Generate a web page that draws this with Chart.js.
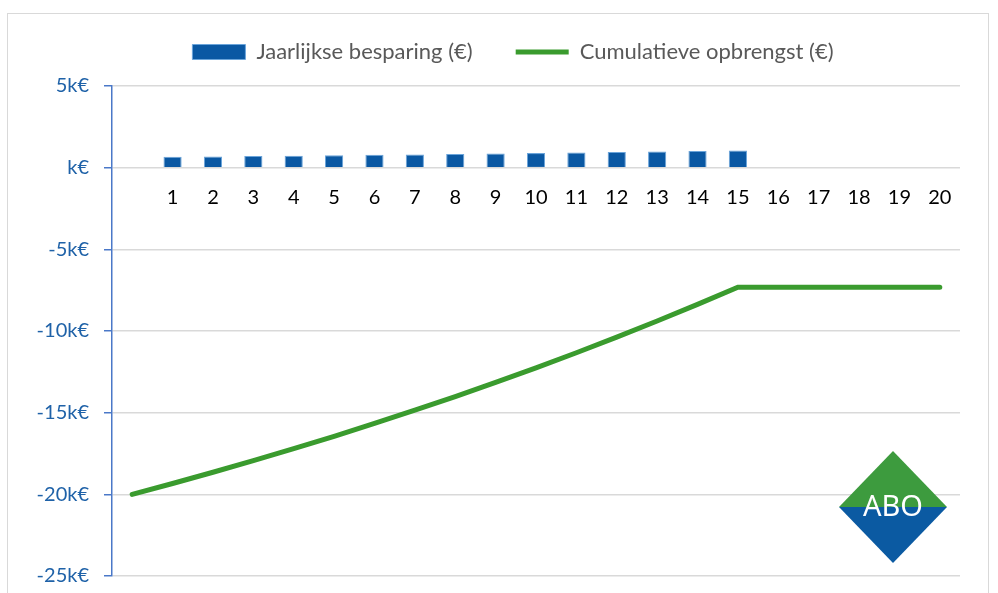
<!DOCTYPE html>
<html lang="nl">
<head>
<meta charset="utf-8">
<title>Jaarlijkse besparing</title>
<script src="https://cdn.jsdelivr.net/npm/chart.js@4/dist/chart.umd.min.js"></script>
<style>
  html, body { margin: 0; padding: 0; background: #fff; }
  #wrap { position: relative; width: 998px; height: 593px; }
  #frame { position: absolute; left: 7px; top: 13px; width: 982px; height: 600px; border: 1px solid #d9d9d9; box-sizing: border-box; }
  #savingsChart { position: absolute; left: 0; top: 0; }
</style>
</head>
<body>
<div id="wrap">
  <div id="frame"></div>
  <canvas id="savingsChart" width="998" height="593"></canvas>
</div>
<script>
// year 0 is the investment, years 1..20 are labelled
const years = ['', '1', '2', '3', '4', '5', '6', '7', '8', '9', '10',
  '11', '12', '13', '14', '15', '16', '17', '18', '19', '20'];

const yearlySavings = [null, 665, 685, 710, 735, 760, 785, 810, 835, 865, 895,
  925, 955, 985, 1020, 1055, null, null, null, null, null];

const cumulativeReturn = [-20000, -19335, -18650, -17940, -17205, -16445, -15660,
  -14850, -14015, -13150, -12255, -11330, -10375, -9390, -8370, -7315,
  -7315, -7315, -7315, -7315, -7315];

const axisTicks = { min: -25000, max: 5000, step: 5000 };

const blue = '#0a58a3';
const blueEdge = '#6aa4da';
const green = '#3a9b2e';
const axisBlue = '#4a78c8';
const labelBlue = '#1f62a8';

// legend sits a bit right of the plot centre and close to the top border
const LEGEND_DX = 18;
const LEGEND_DY = -13;

Chart.defaults.font.family = 'Lato, "Open Sans", sans-serif';

const legendOffset = {
  id: 'legendOffset',
  afterLayout(chart) {
    const lg = chart.legend;
    if (!lg) return;
    lg.left += LEGEND_DX;
    lg.right += LEGEND_DX;
    lg.top += LEGEND_DY;
    lg.bottom += LEGEND_DY;
  }
};

// ABO logo in the lower right corner
const logoPlugin = {
  id: 'aboLogo',
  afterDraw(chart) {
    const ctx = chart.ctx;
    const cx = 893, cy = 507, hw = 54, hh = 56;
    ctx.save();
    ctx.fillStyle = '#3d9b3e';
    ctx.beginPath();
    ctx.moveTo(cx - hw, cy);
    ctx.lineTo(cx, cy - hh);
    ctx.lineTo(cx + hw, cy);
    ctx.closePath();
    ctx.fill();
    ctx.fillStyle = '#0b5aa2';
    ctx.beginPath();
    ctx.moveTo(cx - hw, cy);
    ctx.lineTo(cx + hw, cy);
    ctx.lineTo(cx, cy + hh);
    ctx.closePath();
    ctx.fill();
    ctx.fillStyle = '#ffffff';
    ctx.font = '29px "Noto Sans", sans-serif';
    ctx.textAlign = 'center';
    ctx.textBaseline = 'middle';
    ctx.fillText('ABO', cx, cy + 1);
    ctx.restore();
  }
};

const canvas = document.getElementById('savingsChart');

const config = {
  type: 'bar',
  data: {
    labels: years,
    datasets: [
      {
        label: 'Jaarlijkse besparing (€)',
        data: yearlySavings,
        backgroundColor: blue,
        borderColor: blueEdge,
        borderWidth: 1,
        barPercentage: 0.5,
        categoryPercentage: 0.9,
        pointStyle: 'rect'
      },
      {
        type: 'line',
        label: 'Cumulatieve opbrengst (€)',
        data: cumulativeReturn,
        borderColor: green,
        backgroundColor: green,
        borderWidth: 5,
        borderCapStyle: 'round',
        borderJoinStyle: 'miter',
        pointRadius: 0,
        pointStyle: 'line',
        tension: 0,
        fill: false
      }
    ]
  },
  options: {
    responsive: false,
    animation: false,
    layout: {
      padding: { left: 30, right: 38, top: 11, bottom: 17 }
    },
    plugins: {
      tooltip: { enabled: false },
      legend: {
        position: 'top',
        labels: {
          usePointStyle: true,
          pointStyleWidth: 53,
          boxHeight: 15,
          padding: 43,
          color: '#595959',
          font: { size: 22 }
        }
      }
    },
    scales: {
      x: {
        position: { y: 0 },
        offset: true,
        grid: { display: false, drawTicks: false },
        border: { display: false },
        ticks: {
          color: '#000000',
          padding: 18,
          maxRotation: 0,
          autoSkip: false,
          font: { size: 20 }
        }
      },
      y: {
        min: axisTicks.min,
        max: axisTicks.max,
        afterFit(scale) {
          scale.width = 82;
          // the end labels may hang over the plot edges
          scale.paddingTop = 0;
          scale.paddingBottom = 0;
        },
        grid: {
          color: '#d9d9d9',
          lineWidth: 1.5,
          tickColor: axisBlue,
          tickLength: 8,
          tickWidth: 1.5
        },
        border: { color: axisBlue, width: 1.5 },
        ticks: {
          stepSize: axisTicks.step,
          padding: 15,
          color: labelBlue,
          font: { size: 20 },
          callback: (v) => (v === 0 ? '' : (v / 1000)) + 'k€'
        }
      }
    }
  },
  plugins: [legendOffset, logoPlugin]
};

const savingsChart = new Chart(canvas, config);
</script>
</body>
</html>
